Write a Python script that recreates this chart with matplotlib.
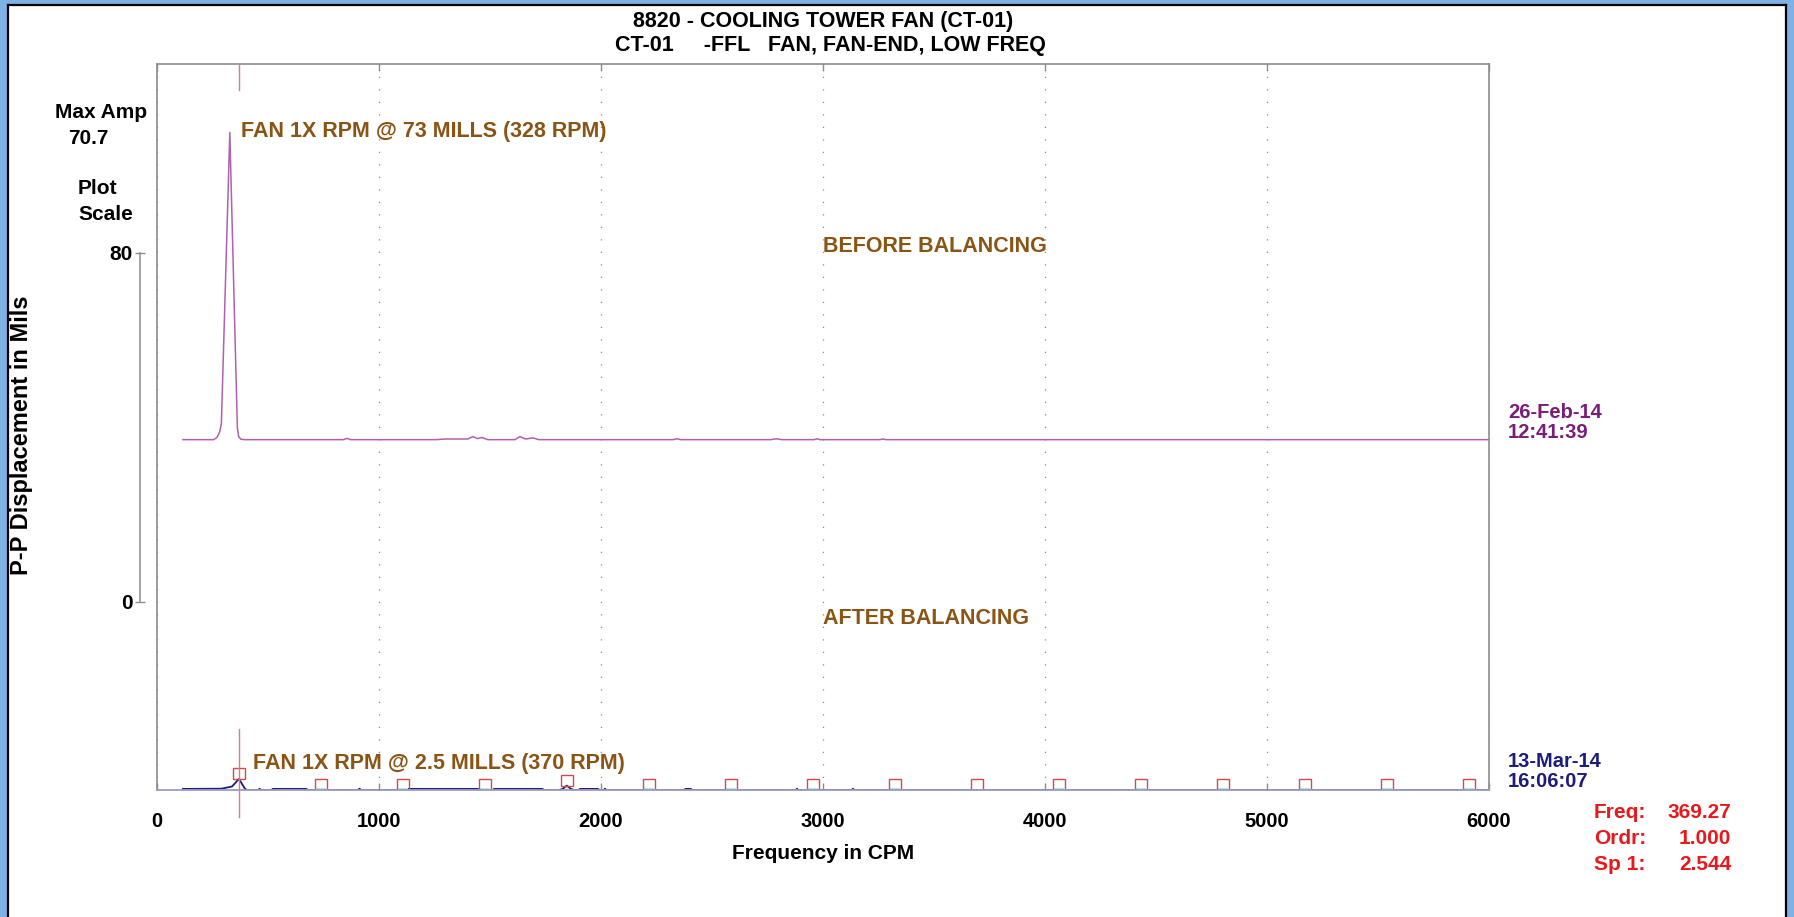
import numpy as np
import matplotlib
matplotlib.use("Agg")
import matplotlib.pyplot as plt
from matplotlib.patches import Rectangle
from matplotlib.transforms import blended_transform_factory

plt.rcParams['font.family'] = ['Liberation Sans', 'DejaVu Sans']
plt.rcParams['font.weight'] = 'bold'
plt.rcParams['axes.labelweight'] = 'bold'

# ---------------------------------------------------------------- data
TITLE = "8820 - COOLING TOWER FAN (CT-01)"
SUBTITLE = "CT-01     -FFL   FAN, FAN-END, LOW FREQ"

# spectrum taken 26-Feb-14 12:41:39 (before balancing), P-P mils vs CPM
before_freq = [117, 200, 255, 270, 282, 290, 328, 362, 368, 378, 395,
               840, 856, 872, 1255, 1300, 1400, 1423, 1443, 1464, 1490,
               1612, 1635, 1660, 1694, 1720, 2325, 2342, 2360, 2765,
               2790, 2815, 2960, 2973, 2986, 3255, 3270, 3285, 6000]
before_amp = [0.3, 0.3, 0.3, 0.8, 2.0, 4.0, 70.7, 3.0, 1.0, 0.4, 0.3,
              0.3, 0.6, 0.3, 0.3, 0.45, 0.45, 1.0, 0.55, 0.8, 0.3,
              0.3, 1.0, 0.45, 0.7, 0.3, 0.3, 0.5, 0.3, 0.3,
              0.5, 0.3, 0.3, 0.5, 0.3, 0.3, 0.45, 0.3, 0.3]

# spectrum taken 13-Mar-14 16:06:07 (after balancing)
after_freq = [117, 290, 338, 369.27, 396, 405, 455, 462, 470, 515, 522,
              672, 680, 905, 912, 920, 1080, 1090, 1445, 1455, 1510,
              1520, 1735, 1745, 1810, 1825, 1846, 1866, 1880, 1900,
              1905, 1985, 1995, 2012, 2018, 2024, 2375, 2380, 2405,
              2410, 2878, 2883, 2888, 3130, 3135, 3140, 6000]
after_amp = [0.25, 0.3, 0.8, 2.544, 0.3, 0.0, 0.0, 0.25, 0.0, 0.0, 0.25,
             0.25, 0.0, 0.0, 0.3, 0.0, 0.0, 0.25, 0.25, 0.0, 0.0,
             0.25, 0.25, 0.0, 0.0, 0.2, 1.0, 0.2, 0.0, 0.0,
             0.25, 0.25, 0.0, 0.0, 0.3, 0.0, 0.0, 0.25, 0.25,
             0.0, 0.0, 0.3, 0.0, 0.0, 0.3, 0.0, 0.0]

BEFORE_DATE = ["26-Feb-14", "12:41:39"]
AFTER_DATE = ["13-Mar-14", "16:06:07"]

BEFORE_PEAK_FREQ = 328
MAX_AMP = 70.7
CURSOR_FREQ = 369.27
CURSOR_ORDER = 1.000
CURSOR_AMP = 2.544
ORDERS = list(range(1, 17))
MINT_ORDERS = [2, 3, 4, 6, 7, 8, 9, 11, 12, 13, 14, 15, 16]

x_ticks = [0, 1000, 2000, 3000, 4000, 5000, 6000]
scale_ticks = [0, 80]

# ---------------------------------------------------------------- layout
W, H = 1794, 917
BEFORE_OFFSET = 80.0      # waterfall offset of the earlier spectrum
SCALE_BASE = 43.1         # where the 0 of the scale bar sits
Y_TOP = 166.4

BROWN = '#8a5414'
PURPLE = '#7a1c7a'
NAVY = '#1c1c7a'
RED = '#e8181c'
GREY = '#8c8c8c'


def fx(px):
    return px / W


def fy(py):
    return 1 - py / H


fig = plt.figure(figsize=(W / 100, H / 100), dpi=100)
fig.patch.set_facecolor('white')

# blue window border
border = '#7fb1e4'
for r in [(0, 0, fx(7), 1), (0, fy(4), 1, 1 - fy(4)), (fx(1786), 0, 1 - fx(1786), 1)]:
    fig.patches.append(Rectangle(r[:2], r[2], r[3], transform=fig.transFigure,
                                 facecolor=border, edgecolor='none', zorder=0))
fig.add_artist(plt.Line2D([fx(7.5), fx(7.5)], [0, fy(4.5)], color='black', lw=1.6,
                          transform=fig.transFigure))
fig.add_artist(plt.Line2D([fx(7.5), fx(1786)], [fy(4.5), fy(4.5)], color='black', lw=1.6,
                          transform=fig.transFigure))
fig.add_artist(plt.Line2D([fx(1786), fx(1786)], [0, fy(4.5)], color='black', lw=1.6,
                          transform=fig.transFigure))

ax = fig.add_axes([fx(157), fy(790), fx(1489) - fx(157), fy(64) - fy(790)])
ax.set_xlim(0, 6000)
ax.set_ylim(0, Y_TOP)
ax.set_yticks([])
for side in ['left', 'top', 'right']:
    ax.spines[side].set_color(GREY)
    ax.spines[side].set_linewidth(1.2)
ax.spines['bottom'].set_color('#9c9cc2')
ax.spines['bottom'].set_linewidth(1.3)

ax.set_xticks(x_ticks)
ax.set_xticklabels([str(t) for t in x_ticks])
ax.tick_params(axis='x', direction='in', length=5, width=1, color=GREY,
               top=True, labelsize=14.5, pad=16)
ax.grid(axis='x', color='#8a8a8a', linestyle=(0, (1, 9)), lw=0.9)
ax.set_xlabel("Frequency in CPM", fontsize=15, fontweight='bold', labelpad=9)

# spectra
ax.plot(before_freq, np.array(before_amp) + BEFORE_OFFSET, color='#b060b0',
        lw=1.1, zorder=3)
ax.plot(after_freq, after_amp, color=NAVY, lw=1.3, zorder=2)

# harmonic order markers of the cursor frequency
box_w, box_h = 54, 2.5
for n in ORDERS:
    f = n * CURSOR_FREQ
    base = float(np.interp(f, after_freq, after_amp))
    if base < 0.5:
        base = 0.0
    if n in MINT_ORDERS:
        ax.add_patch(Rectangle((f - 22, 0), 44, 0.55, facecolor='#a6eed6',
                               edgecolor='none', zorder=2.1))
    ax.add_patch(Rectangle((f - box_w / 2, base), box_w, box_h, fill=False,
                           edgecolor='#d04a4a', lw=1.0, zorder=2.2))

# cursor line
ax.plot([CURSOR_FREQ, CURSOR_FREQ], [Y_TOP - 6, Y_TOP], color='#d97c7c', lw=1.0, zorder=4)
ax.plot([CURSOR_FREQ, CURSOR_FREQ], [14, -6.2], color='#d97c7c', lw=1.0, zorder=4,
        clip_on=False)

# annotations
ax.text(BEFORE_PEAK_FREQ + 50, BEFORE_OFFSET + MAX_AMP + 0.2,
        "FAN 1X RPM @ 73 MILLS (328 RPM)", color=BROWN, fontsize=15.5,
        va='center', ha='left')
ax.text(CURSOR_FREQ + 62, 6.0, "FAN 1X RPM @ 2.5 MILLS (370 RPM)", color=BROWN,
        fontsize=15.5, va='center', ha='left')
ax.text(3000, 124.5, "BEFORE BALANCING", color=BROWN, fontsize=15.5, va='center', ha='left')
ax.text(3000, 39.4, "AFTER BALANCING", color=BROWN, fontsize=15.5, va='center', ha='left')

# date stamps at the right end of each trace
tr = blended_transform_factory(ax.transAxes, ax.transData)
dx = 1 + 19 / 1332
for offset, lines, col in [(BEFORE_OFFSET, BEFORE_DATE, PURPLE), (0.0, AFTER_DATE, NAVY)]:
    ax.text(dx, offset + 0.6, lines[1], transform=tr, color=col, fontsize=14.5,
            va='baseline', ha='left', clip_on=False)
    ax.text(dx, offset + 0.6 + 20 / 4.3625, lines[0], transform=tr, color=col,
            fontsize=14.5, va='baseline', ha='left', clip_on=False)

# plot scale bar
sec = ax.secondary_yaxis(-17 / 1332, functions=(lambda y: y - SCALE_BASE,
                                                 lambda v: v + SCALE_BASE))
sec.set_yticks(scale_ticks)
sec.set_yticklabels([str(t) for t in scale_ticks])
sec.spines['left'].set_bounds(0, 80)
sec.spines['left'].set_color(GREY)
sec.spines['left'].set_linewidth(1.1)
sec.tick_params(axis='y', direction='inout', length=7, width=1, color=GREY,
                labelsize=15, pad=2)

# left-hand captions
fig.text(fx(55), fy(113), "Max Amp", fontsize=15, va='center', ha='left')
fig.text(fx(68), fy(139), f"{MAX_AMP}", fontsize=15, va='center', ha='left')
fig.text(fx(78), fy(189), "Plot", fontsize=15, va='center', ha='left')
fig.text(fx(78), fy(215), "Scale", fontsize=15, va='center', ha='left')
fig.text(fx(22), fy(435), "P-P Displacement in Mils", fontsize=17, rotation=90,
         va='center', ha='center')

# titles
fig.text(fx(823), fy(21), TITLE, fontsize=15.5, va='center', ha='center')
fig.text(fx(830), fy(46), SUBTITLE, fontsize=15.5, va='center', ha='center')

# cursor readout
readout = [("Freq:", f"{CURSOR_FREQ:.2f}", 812), ("Ordr:", f"{CURSOR_ORDER:.3f}", 838),
           ("Sp 1:", f"{CURSOR_AMP:.3f}", 864)]
for lab, val, py in readout:
    fig.text(fx(1594), fy(py), lab, color=RED, fontsize=15, va='center', ha='left')
    fig.text(fx(1731), fy(py), val, color=RED, fontsize=15, va='center', ha='right')

fig.savefig("out.png", dpi=100)
